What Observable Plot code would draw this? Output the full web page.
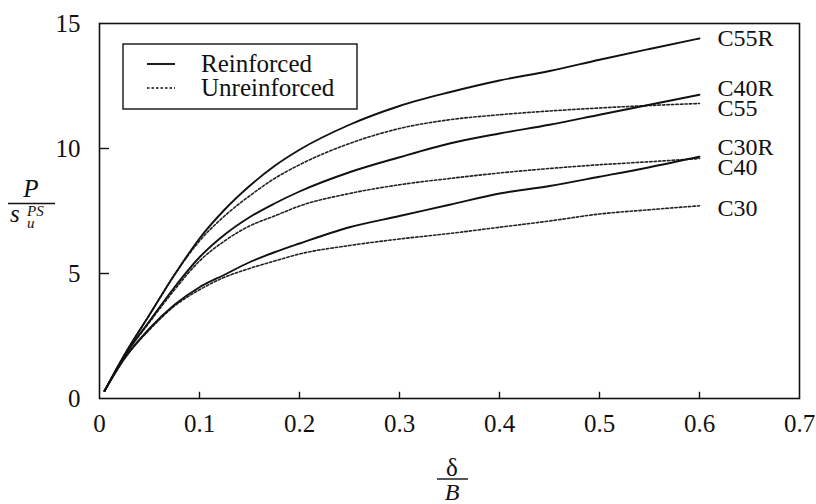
<!DOCTYPE html>
<html>
<head>
<meta charset="utf-8">
<script src="https://cdn.jsdelivr.net/npm/d3@7"></script>
<script src="https://cdn.jsdelivr.net/npm/@observablehq/plot@0.6"></script>
<style>
  html, body { margin: 0; padding: 0; background: #fff; }
  #chart { position: relative; width: 816px; height: 504px; }
  #chart svg text { font-family: 'Liberation Serif', 'DejaVu Serif', serif; }
</style>
</head>
<body>
<div id="chart"></div>
<script>
// ---- data ----
const deltaB = [0.005, 0.025, 0.05, 0.075, 0.1, 0.125, 0.15, 0.175, 0.2, 0.25, 0.3, 0.35, 0.4, 0.45, 0.5, 0.55, 0.6];
const C55R = [0.3, 1.75, 3.35, 4.95, 6.4, 7.55, 8.5, 9.3, 9.95, 10.95, 11.7, 12.25, 12.72, 13.1, 13.55, 13.98, 14.4];
const C55  = [0.3, 1.75, 3.35, 4.95, 6.3, 7.3, 8.1, 8.8, 9.35, 10.2, 10.8, 11.15, 11.35, 11.5, 11.62, 11.72, 11.8];
const C40R = [0.3, 1.7, 3.1, 4.45, 5.65, 6.55, 7.25, 7.8, 8.28, 9.05, 9.65, 10.2, 10.6, 10.95, 11.35, 11.75, 12.15];
const C40  = [0.3, 1.7, 3.05, 4.35, 5.5, 6.3, 6.9, 7.3, 7.7, 8.2, 8.55, 8.8, 9.02, 9.2, 9.35, 9.47, 9.6];
const C30R = [0.3, 1.6, 2.8, 3.75, 4.45, 4.95, 5.45, 5.85, 6.2, 6.85, 7.3, 7.75, 8.2, 8.5, 8.87, 9.25, 9.67];
const C30  = [0.3, 1.6, 2.75, 3.7, 4.35, 4.85, 5.2, 5.5, 5.78, 6.12, 6.38, 6.6, 6.85, 7.1, 7.38, 7.55, 7.71];

const seriesNames = ["C55R", "C55", "C40R", "C40", "C30R", "C30"];
const seriesValues = [C55R, C55, C40R, C40, C30R, C30];
const seriesType = ["Reinforced", "Unreinforced", "Reinforced", "Unreinforced", "Reinforced", "Unreinforced"];

// curve-end label positions (value units)
const labelNames = ["C55R", "C40R", "C55", "C30R", "C40", "C30"];
const labelY     = [14.39, 12.39, 11.59, 10.03, 9.23, 7.59];
const labelX     = [0.6, 0.6, 0.6, 0.6, 0.6, 0.6];

const xTicks = [0, 0.1, 0.2, 0.3, 0.4, 0.5, 0.6, 0.7];
const yTicks = [0, 5, 10, 15];
const xTickMarks = [0.1, 0.2, 0.3, 0.4, 0.5, 0.6];
const yTickMarks = [5, 10];
const legendItems = ["Reinforced", "Unreinforced"];

// ---- build table ----
const rows = [];
seriesNames.forEach((name, i) => {
  deltaB.forEach((x, j) => rows.push({series: name, type: seriesType[i], x, y: seriesValues[i][j]}));
});
const labels = labelNames.map((n, i) => ({name: n, x: labelX[i], y: labelY[i]}));

const serif = "Liberation Serif, DejaVu Serif, serif";

const plot = Plot.plot({
  width: 816,
  height: 504,
  marginLeft: 99,
  marginRight: 17,
  marginTop: 23,
  marginBottom: 106,
  style: {fontFamily: serif, fontSize: "25px", background: "white", color: "#111"},
  x: {domain: [0, 0.7]},
  y: {domain: [0, 15]},
  marks: [
    Plot.frame({stroke: "#111", strokeWidth: 1.6}),
    Plot.axisX({ticks: xTicks, tickSize: 0, tickPadding: 16, label: null, tickFormat: d => String(d), fontSize: 25, fontFamily: serif}),
    Plot.axisY({ticks: yTicks, tickSize: 0, tickPadding: 19, label: null, tickFormat: d => String(d), fontSize: 25, fontFamily: serif}),
    Plot.ruleX(xTickMarks, {x: d => d, y1: 0, y2: 0.25, stroke: "#111", strokeWidth: 1.4}),
    Plot.ruleY(yTickMarks, {y: d => d, x1: 0, x2: 0.01, stroke: "#111", strokeWidth: 1.4}),
    Plot.line(rows.filter(d => d.type === "Unreinforced"), {
      x: "x", y: "y", z: "series", curve: "monotone-x",
      stroke: "#222", strokeWidth: 1.6, strokeDasharray: "2.5,2"
    }),
    Plot.line(rows.filter(d => d.type === "Reinforced"), {
      x: "x", y: "y", z: "series", curve: "monotone-x",
      stroke: "#111", strokeWidth: 1.9
    }),
    Plot.text(labels, {x: "x", y: "y", text: "name", textAnchor: "start", dx: 18, fontSize: 24, fontFamily: serif, fill: "#111"})
  ]
});

document.getElementById("chart").appendChild(plot);

// ---- legend and axis titles (annotations) ----
const svg = d3.select(plot);
const g = svg.append("g").attr("font-family", serif).attr("fill", "#111").attr("text-anchor", "start");

// legend box
g.append("rect").attr("x", 123).attr("y", 44).attr("width", 234).attr("height", 65)
  .attr("fill", "white").attr("stroke", "#111").attr("stroke-width", 1.4);
const legY = [64, 88];
legendItems.forEach((t, i) => {
  g.append("line").attr("x1", 147).attr("x2", 175).attr("y1", legY[i]).attr("y2", legY[i])
    .attr("stroke", "#111").attr("stroke-width", i === 0 ? 1.9 : 1.6)
    .attr("stroke-dasharray", i === 0 ? null : "2.5,2");
  g.append("text").attr("x", 201).attr("y", legY[i] + 8).attr("font-size", 25)
    .attr("text-anchor", "start").text(t);
});

// y-axis title: P / s_u^{PS}
g.append("text").attr("x", 31).attr("y", 197).attr("font-size", 25).attr("font-style", "italic")
  .attr("text-anchor", "middle").text("P");
g.append("line").attr("x1", 8).attr("x2", 55).attr("y1", 203.5).attr("y2", 203.5)
  .attr("stroke", "#111").attr("stroke-width", 1.4);
const den = g.append("text").attr("x", 10).attr("y", 222).attr("font-size", 25)
  .attr("font-style", "italic").attr("text-anchor", "start");
den.append("tspan").text("s");
den.append("tspan").attr("x", 27).attr("y", 216).attr("font-size", 15).text("PS");
den.append("tspan").attr("x", 27).attr("y", 228).attr("font-size", 15).text("u");

// x-axis title: δ / B
g.append("text").attr("x", 452).attr("y", 476).attr("font-size", 25)
  .attr("text-anchor", "middle").text("δ");
g.append("line").attr("x1", 437).attr("x2", 468).attr("y1", 479).attr("y2", 479)
  .attr("stroke", "#111").attr("stroke-width", 1.4);
g.append("text").attr("x", 452).attr("y", 500).attr("font-size", 24).attr("font-style", "italic")
  .attr("text-anchor", "middle").text("B");
</script>
</body>
</html>
